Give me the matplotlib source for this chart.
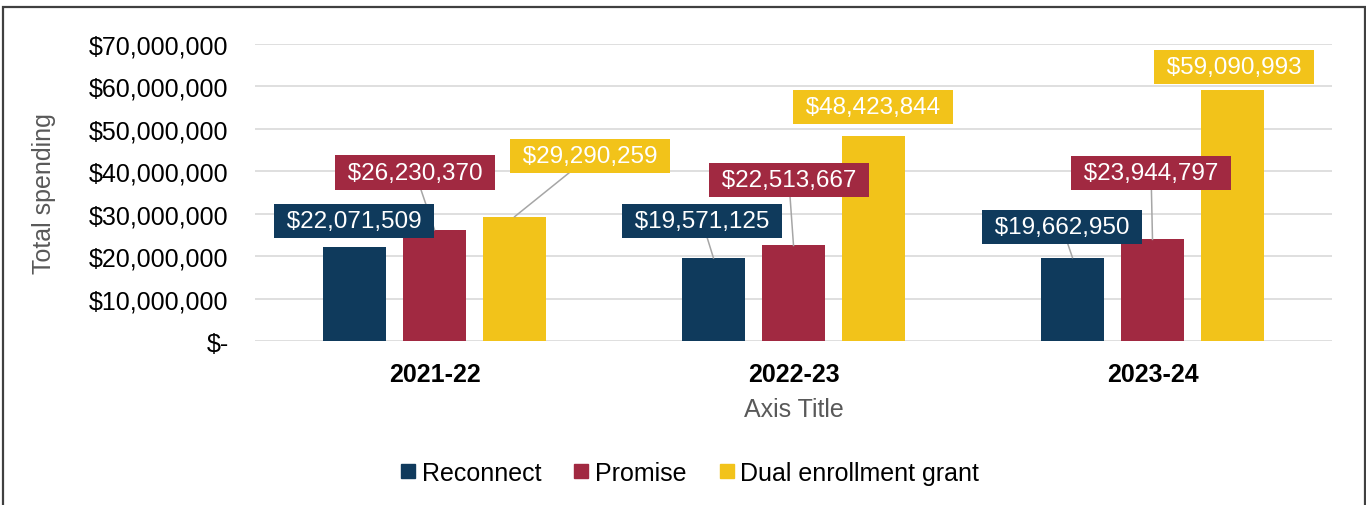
import numpy as np
import matplotlib.pyplot as plt
from matplotlib.patches import Rectangle
from matplotlib.lines import Line2D

plt.rcParams['font.family'] = ['Liberation Sans', 'DejaVu Sans']

years = ['2021-22', '2022-23', '2023-24']
series = ['Reconnect', 'Promise', 'Dual enrollment grant']
reconnect = [22071509, 19571125, 19662950]
promise = [26230370, 22513667, 23944797]
dual = [29290259, 48423844, 59090993]
colors = ['#0f3a5c', '#a12941', '#f2c31a']

# where the data labels sit (x offset from group centre, y in dollars)
label_dx = [[-0.224, -0.255, -0.252],
            [-0.054, -0.013, -0.004],
            [0.433, 0.221, 0.227]]
label_y = [[28.2e6, 28.3e6, 26.9e6],
           [39.7e6, 38.0e6, 39.5e6],
           [43.6e6, 55.2e6, 64.6e6]]

fig = plt.figure(figsize=(13.66, 5.06), dpi=100)
ax = fig.add_axes([0.1867, 0.3241, 0.7884, 0.587])

x = np.arange(len(years))
width = 0.175
step = 0.223
values = [reconnect, promise, dual]

for i, (name, vals) in enumerate(zip(series, values)):
    xs = x + (i - 1) * step
    ax.bar(xs, vals, width, color=colors[i], zorder=2, label=name)
    for j in range(len(years)):
        lx = x[j] + label_dx[i][j]
        ly = label_y[i][j]
        if ly - vals[j] > 7e6:
            ax.plot([lx, xs[j]], [ly, vals[j]], color='#a6a6a6', lw=1.1, zorder=3)
        ax.text(lx, ly, ' ${:,} '.format(vals[j]), ha='center', va='center',
                fontsize=17.5, color='white', zorder=4,
                bbox=dict(boxstyle='square,pad=0.25', fc=colors[i], ec='none'))

ax.set_xlim(-0.5, 2.5)
ax.set_ylim(0, 70e6)
ax.set_yticks(np.arange(0, 70e6 + 1, 10e6))
ax.set_yticklabels(['$-'] + ['${:,}'.format(int(v)) for v in np.arange(10e6, 70e6 + 1, 10e6)])
ax.set_xticks(x)
ax.set_xticklabels(years, fontweight='bold')
ax.tick_params(axis='y', length=0, pad=19, labelsize=18)
ax.tick_params(axis='x', length=0, pad=15, labelsize=18)
ax.grid(axis='y', color='#d9d9d9', lw=1.2, zorder=0)
ax.set_axisbelow(True)
for s in ax.spines.values():
    s.set_visible(False)

ax.set_xlabel('Axis Title', fontsize=18, color='#595959', labelpad=8)
ax.set_ylabel('Total spending', fontsize=18, color='#595959')
ax.yaxis.set_label_coords(-0.185, 0.5)

handles = [Line2D([], [], marker='s', ls='none', markersize=9.5, color=c) for c in colors]
fig.legend(handles, series, loc='center', bbox_to_anchor=(0.505, 0.063), ncol=3,
           frameon=False, fontsize=18, handlelength=0.6, handletextpad=0.25,
           columnspacing=1.3)

fig.add_artist(Rectangle((0.0022, -0.1), 0.9971, 1.0842, transform=fig.transFigure,
                         fill=False, ec='#404040', lw=1.6, clip_on=False))

fig.savefig('out.png', dpi=100)
